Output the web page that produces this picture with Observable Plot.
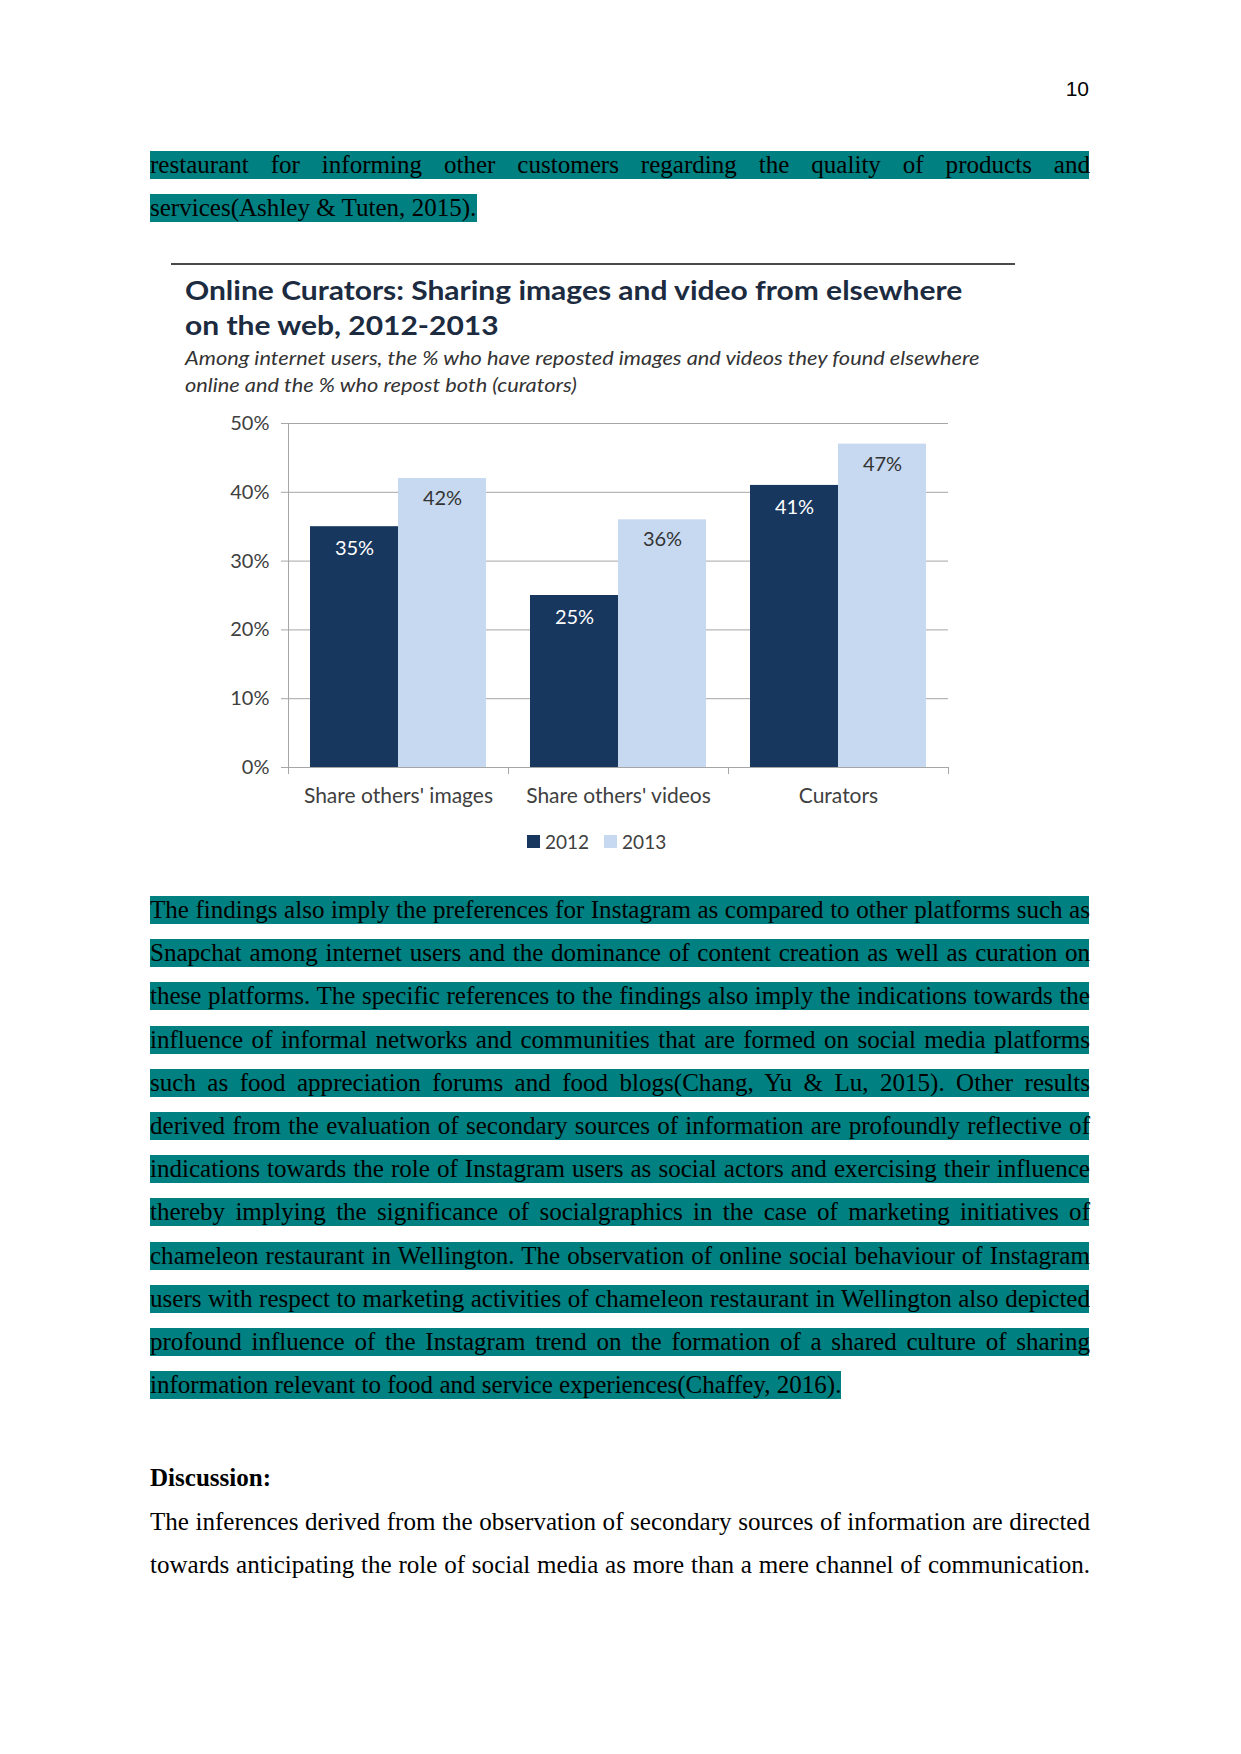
<!DOCTYPE html>
<html><head><meta charset="utf-8">
<script src="https://cdn.jsdelivr.net/npm/d3@7"></script>
<script src="https://cdn.jsdelivr.net/npm/@observablehq/plot@0.6"></script>
<style>
html,body{margin:0;padding:0;background:#fff;}
body{width:1241px;height:1754px;position:relative;overflow:hidden;}
.abs{position:absolute;}
body .leg-swatch{margin-right:15px !important;}
body .leg-swatch > svg{margin-right:5px !important;}
</style></head><body>
<script>
// ---- chart data ----
const categories = ["Share others' images", "Share others' videos", "Curators"];
const years = ["2012", "2013"];
const values2012 = [35, 25, 41];
const values2013 = [42, 36, 47];
const yTicks = [0, 10, 20, 30, 40, 50];
const barColors = ["#17375e", "#c6d9f1"];
const labelColors = ["#ffffff", "#333333"];
const titleLines = ["Online Curators: Sharing images and video from elsewhere", "on the web, 2012-2013"];
const subtitleLines = ["Among internet users, the % who have reposted images and videos they found elsewhere", "online and the % who repost both (curators)"];

// ---- document text ----
const pageNumber = "10";
const para1Lines = [
  "restaurant for informing other customers regarding the quality of products and",
  "services(Ashley & Tuten, 2015)."
];
const para2Lines = [
  "The findings also imply the preferences for Instagram as compared to other platforms such as",
  "Snapchat among internet users and the dominance of content creation as well as curation on",
  "these platforms. The specific references to the findings also imply the indications towards the",
  "influence of informal networks and communities that are formed on social media platforms",
  "such as food appreciation forums and food blogs(Chang, Yu & Lu, 2015). Other results",
  "derived from the evaluation of secondary sources of information are profoundly reflective of",
  "indications towards the role of Instagram users as social actors and exercising their influence",
  "thereby implying the significance of socialgraphics in the case of marketing initiatives of",
  "chameleon restaurant in Wellington. The observation of online social behaviour of Instagram",
  "users with respect to marketing activities of chameleon restaurant in Wellington also depicted",
  "profound influence of the Instagram trend on the formation of a shared culture of sharing",
  "information relevant to food and service experiences(Chaffey, 2016)."
];
const heading = "Discussion:";
const para3Lines = [
  "The inferences derived from the observation of secondary sources of information are directed",
  "towards anticipating the role of social media as more than a mere channel of communication."
];

// ---- helpers ----
const ctx = document.createElement("canvas").getContext("2d");
function measure(text, font) { ctx.font = font; return ctx.measureText(text).width; }
const LEFT = 150, TEXT_W = 939;
const bodyFont = '25px "Liberation Serif", "Times New Roman", serif';
const sRef = (327 / measure(para1Lines[1], bodyFont) + 691 / measure(para2Lines[11], bodyFont)) / 2;

function bodyLine(text, top, {justify = true, highlight = true, bold = false} = {}) {
  const font = (bold ? "bold " : "") + bodyFont;
  const nat = measure(text, font);
  let s = sRef;
  if (justify && nat * s > TEXT_W) s = TEXT_W / nat;
  const outerW = justify ? TEXT_W : nat * s;
  const outer = document.createElement("div");
  Object.assign(outer.style, {position: "absolute", left: LEFT + "px", top: top + "px", width: outerW + "px",
    height: "28px", background: highlight ? "#008080" : "transparent"});
  const inner = document.createElement("div");
  Object.assign(inner.style, {width: (justify ? outerW / s : nat + 2) + 1 + "px", font: font, lineHeight: "28px",
    color: "#000", textAlign: justify ? "justify" : "left", textAlignLast: justify ? "justify" : "left",
    transform: `scaleX(${s})`, transformOrigin: "0 0", whiteSpace: "normal"});
  inner.textContent = text;
  outer.appendChild(inner);
  document.body.appendChild(outer);
}

function absText(text, {left, top, font, color = "#000", right}) {
  const d = document.createElement("div");
  d.className = "abs";
  d.textContent = text;
  Object.assign(d.style, {top: top + "px", font: font, color, whiteSpace: "nowrap", lineHeight: "1"});
  if (right !== undefined) d.style.right = (1241 - right) + "px"; else d.style.left = left + "px";
  document.body.appendChild(d);
  return d;
}

// page number
absText(pageNumber, {right: 1089, top: 78, font: '21px "Liberation Sans Narrow", "Liberation Sans", sans-serif', color: "#000"});

// paragraph 1
para1Lines.forEach((t, i) => bodyLine(t, 151 + i * 43, {justify: i < para1Lines.length - 1}));

// chart top rule
const rule = document.createElement("div");
Object.assign(rule.style, {position: "absolute", left: "171px", top: "263px", width: "844px", height: "2px", background: "#4a4a4a"});
document.body.appendChild(rule);

// title & subtitle
const titleFont = '700 27px Lato, sans-serif';
const tScale = 778 / measure(titleLines[0], titleFont);
titleLines.forEach((t, i) => {
  const d = absText(t, {left: 185, top: 276 + i * 35, font: titleFont, color: "#1c2b40"});
  d.style.transform = `scaleX(${tScale})`; d.style.transformOrigin = "0 0";
});
const subFont = 'italic 19px Lato, sans-serif';
const sScale = 796 / measure(subtitleLines[0], subFont);
subtitleLines.forEach((t, i) => {
  const d = absText(t, {left: 185, top: 348 + i * 27, font: subFont, color: "#333"});
  d.style.transform = `scaleX(${sScale})`; d.style.transformOrigin = "0 0";
});

// ---- chart ----
const data = categories.flatMap((c, i) => [
  {category: c, year: years[0], value: values2012[i]},
  {category: c, year: years[1], value: values2013[i]}
]);
const W = 844, ML = 117, MR = 67;
const facetW = (W - ML - MR) / categories.length;
const chart = Plot.plot({
  width: W, height: 400,
  marginLeft: ML, marginRight: MR, marginTop: 13, marginBottom: 43,
  style: {fontFamily: "Lato, sans-serif", fontSize: "20px", color: "#404040", background: "transparent", overflow: "visible"},
  fx: {domain: categories, padding: 0, label: null},
  x: {domain: years, paddingInner: 0, paddingOuter: 0.25, axis: null},
  y: {domain: [0, 50], label: null},
  color: {domain: years, range: barColors},
  marks: [
    Plot.gridY(yTicks, {stroke: "#a6a6a6", strokeOpacity: 1}),
    Plot.barY(data, {fx: "category", x: "year", y: "value", fill: "year"}),
    Plot.text(data, {filter: d => d.year === years[0], fx: "category", x: "year", y: "value", text: d => d.value + "%", dy: 22, fill: labelColors[0], fontSize: 20}),
    Plot.text(data, {filter: d => d.year === years[1], fx: "category", x: "year", y: "value", text: d => d.value + "%", dy: 20, fill: labelColors[1], fontSize: 20}),
    Plot.ruleY([0], {stroke: "#a6a6a6"}),
    // vertical y-axis line at the left edge of the first facet
    Plot.ruleX([categories[0]], {fx: d => d, x: null, y1: yTicks[0], y2: yTicks[yTicks.length - 1], stroke: "#a6a6a6", dx: -facetW / 2}),
    Plot.axisY({ticks: yTicks, tickFormat: d => d + "%", tickSize: 7, tickPadding: 12, stroke: "#a6a6a6", fill: "#404040", label: null, fontSize: 20}),
    Plot.axisFx({anchor: "bottom", tickSize: 0, tickPadding: 21, label: null, fill: "#404040", fontSize: 21}),
    Plot.axisFx({anchor: "bottom", tickSize: 7, tickFormat: () => "", label: null, stroke: "#a6a6a6", dx: -facetW / 2}),
    Plot.axisFx({anchor: "bottom", tickSize: 7, tickFormat: () => "", label: null, stroke: "#a6a6a6", dx: facetW / 2})
  ]
});
const chartWrap = document.createElement("div");
Object.assign(chartWrap.style, {position: "absolute", left: "171px", top: "410px"});
chartWrap.appendChild(chart);
document.body.appendChild(chartWrap);

// legend
const legend = Plot.legend({color: {domain: years, range: barColors}, swatchSize: 13, swatchWidth: 13, swatchHeight: 13,
  className: "leg",
  style: {fontFamily: "Lato, sans-serif", fontSize: "19px", color: "#404040", background: "transparent"}});
const legWrap = document.createElement("div");
Object.assign(legWrap.style, {position: "absolute", left: "527px", top: "825px", display: "flex", justifyContent: "flex-start"});
legWrap.appendChild(legend);
document.body.appendChild(legWrap);

// paragraph 2
para2Lines.forEach((t, i) => bodyLine(t, 896 + i * 43.2, {justify: i < para2Lines.length - 1}));

// heading + paragraph 3
bodyLine(heading, 1464, {justify: false, highlight: false, bold: true});
para3Lines.forEach((t, i) => bodyLine(t, 1508 + i * 43, {justify: true, highlight: false}));
</script>
</body></html>
